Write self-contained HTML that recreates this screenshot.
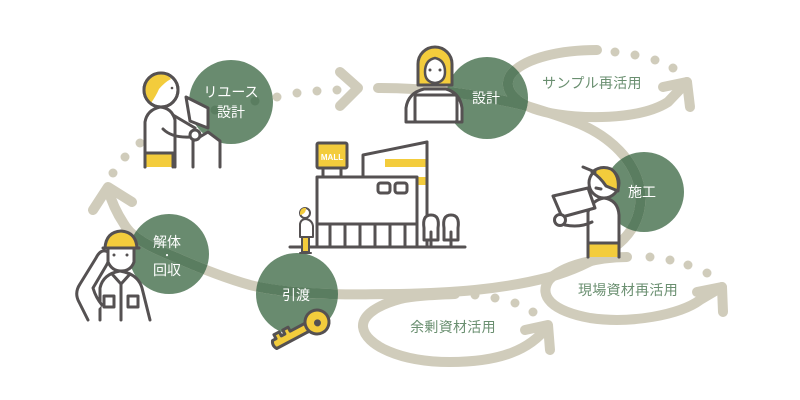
<!DOCTYPE html>
<html><head><meta charset="utf-8"><style>
html,body{margin:0;padding:0;background:#fff;}
svg{display:block;}
.t{font-family:"Liberation Sans","Noto Sans CJK JP",sans-serif;}
</style></head><body>
<svg width="800" height="400" viewBox="0 0 800 400" xmlns="http://www.w3.org/2000/svg">
<defs>
<clipPath id="cc">
<circle cx="231" cy="102" r="42"/>
<circle cx="487" cy="98" r="41"/>
<circle cx="644" cy="192" r="40"/>
<circle cx="169" cy="254" r="40"/>
<circle cx="297" cy="294" r="41"/>
</clipPath>
</defs>
<!-- circles -->
<g fill="#698b6f">
<circle cx="231" cy="102" r="42"/>
<circle cx="487" cy="98" r="41"/>
<circle cx="644" cy="192" r="40"/>
<circle cx="169" cy="254" r="40"/>
<circle cx="297" cy="294" r="41"/>
</g>
<!-- tracks -->
<g id="tr" fill="none" stroke="#d0ccbb" stroke-width="10" stroke-linecap="round" stroke-linejoin="round">
<path d="M378,88 C420,88 470,92 527,106 C550,113 565,118 580,124 C610,137 635,160 640,190 C643,215 632,235 613,248 C595,260 575,270 550,277 C500,290 450,293 400,294 C370,294 350,295 330,294 C300,293 270,290 250,285 C225,278 200,268 175,257 C150,247 132,238 124,224 C116,212 111,200 108,189"/>
<polyline points="93,210 108,187 132,202"/>
<polyline points="340,72 358,88 340,106"/>
<path d="M597,50 C560,50 527,58 513,72 C500,86 512,104 545,112 C580,120 640,120 668,102 L687,82"/>
<polyline points="663,87 687,82 690,107"/>
<path d="M627,257 C600,257 562,265 549,280 C538,296 552,311 590,318 C630,324 680,315 700,300 L722,287"/>
<polyline points="697,292 722,287 723,312"/>
<path d="M455,294 C430,295 412,296 400,299 C378,305 362,315 363,327 C365,345 400,362 450,362 C500,362 530,350 548,326"/>
<polyline points="525,330 548,325 550,350"/>
</g>
<g fill="#d0ccbb">
<circle cx="615" cy="52" r="4.5"/><circle cx="635" cy="55" r="4.5"/><circle cx="655" cy="60" r="4.5"/><circle cx="673" cy="68" r="4.5"/>
<circle cx="650" cy="257" r="4.5"/><circle cx="670" cy="260" r="4.5"/><circle cx="688" cy="265" r="4.5"/><circle cx="707" cy="273" r="4.5"/>
<circle cx="475" cy="295" r="4.5"/><circle cx="495" cy="298" r="4.5"/><circle cx="515" cy="303" r="4.5"/><circle cx="533" cy="312" r="4.5"/>
<circle cx="113" cy="173" r="4.5"/><circle cx="125" cy="157" r="4.5"/><circle cx="140" cy="143" r="4.5"/>
<circle cx="277" cy="97" r="4.5"/><circle cx="297" cy="93" r="4.5"/><circle cx="317" cy="91" r="4.5"/><circle cx="337" cy="90" r="4.5"/>
</g>
<!-- darker overlap -->
<g clip-path="url(#cc)">
<g fill="none" stroke="#5a7d60" stroke-width="10" stroke-linecap="round" stroke-linejoin="round">
<path d="M378,88 C420,88 470,92 527,106 C550,113 565,118 580,124 C610,137 635,160 640,190 C643,215 632,235 613,248 C595,260 575,270 550,277 C500,290 450,293 400,294 C370,294 350,295 330,294 C300,293 270,290 250,285 C225,278 200,268 175,257 C150,247 132,238 124,224 C116,212 111,200 108,189"/>
<path d="M597,50 C560,50 527,58 513,72 C500,86 512,104 545,112 C580,120 640,120 668,102 L687,82"/>
</g>
<g fill="#5a7d60"><circle cx="215" cy="110" r="4.5"/><circle cx="255" cy="101" r="4.5"/></g>
</g>
<!-- labels -->
<g class="t" fill="#fff" font-size="14" text-anchor="middle">
<text x="231" y="97">リユース</text>
<text x="231" y="117">設計</text>
<text x="486" y="103">設計</text>
<text x="642" y="197">施工</text>
<text x="167" y="247">解体</text>
<text x="167" y="259" font-size="10">・</text>
<text x="167" y="275">回収</text>
<text x="296" y="300">引渡</text>
</g>
<g class="t" fill="#6a8f70" font-size="14" text-anchor="middle" letter-spacing="0.3">
<text x="592" y="88">サンプル再活用</text>
<text x="628" y="295">現場資材再活用</text>
<text x="453" y="332">余剰資材活用</text>
</g>
<!-- figures -->
<g stroke="#555152" stroke-width="3" stroke-linecap="round" stroke-linejoin="round">
<!-- reuse person -->
<path d="M145,167 L145,122 Q147,110 160,107 Q172,108 175,120 L175,167" fill="#fff"/>
<rect x="145" y="153" width="28" height="14" fill="#f3cc3c" stroke="none"/>
<line x1="145" y1="153" x2="145" y2="167"/>
<line x1="173" y1="153" x2="173" y2="167"/>
<line x1="145" y1="153" x2="173" y2="153"/>
<circle cx="161" cy="90" r="17" fill="#fff"/>
<path d="M163,74 A16,16 0 0 0 151,103 Q156,96 159,89 Q165,82 171,79 Q168,75 163,74 Z" fill="#f3cc3c" stroke="none"/>
<circle cx="161" cy="90" r="17" fill="none"/>
<circle cx="172" cy="88" r="1.3" fill="#555152" stroke="none"/>
<path d="M186,97 L208,108 L208,128 L190,121 Z" fill="#fff"/>
<path d="M193,167 L193,141 L208,132 L220,141 L220,167" fill="#fff"/>
<path d="M173,115 L195,128" fill="none"/>
<path d="M163,129 Q172,138 190,137" fill="none"/>
<circle cx="195" cy="135" r="5" fill="#fff"/>
<!-- design woman -->
<path d="M406,122 L406,108 Q408,93 424,89 L446,89 Q460,93 462,108 L462,122 Z" fill="#fff"/>
<path d="M418,85 L418,64 A17,17 0 0 1 452,64 L452,85 Z" fill="#f3cc3c"/>
<path d="M425,72 Q425,60 435,58 Q445,60 445,72 Q445,82 435,83 Q425,82 425,72 Z" fill="#fff" stroke-width="2.5"/>
<circle cx="430" cy="70" r="1.5" fill="#555152" stroke="none"/>
<circle cx="440" cy="70" r="1.5" fill="#555152" stroke="none"/>
<rect x="415" y="95" width="42" height="27" rx="2" fill="#fff"/>
<!-- construction worker -->
<path d="M588,257 L588,212 Q592,200 604,198 Q618,200 619,215 L619,257" fill="#fff"/>
<rect x="589" y="243" width="29" height="14" fill="#f3cc3c" stroke="none"/>
<line x1="588" y1="243" x2="619" y2="243"/>
<line x1="588" y1="243" x2="588" y2="257"/>
<line x1="619" y1="243" x2="619" y2="257"/>
<circle cx="604" cy="183" r="15" fill="#fff"/>
<path d="M592,172 Q601,165 611,169 Q620,175 618,191 L606,186 Q600,177 592,172 Z" fill="#f3cc3c"/>
<line x1="583" y1="167" x2="595" y2="172"/>
<line x1="596" y1="188" x2="601" y2="189"/>
<path d="M553,196 L588,188 L595,208 L562,217 Z" fill="#fff"/>
<path d="M565,225 Q580,228 592,222" fill="none"/>
<circle cx="560" cy="220" r="5.5" fill="#fff"/>
<!-- demolition worker -->
<path d="M100,320 L100,288 Q103,274 120,271 Q138,274 142,288 L150,320" fill="#fff"/>
<path d="M88,320 L79,302 Q74,293 80,284 L96,258 Q101,248 108,252 Q111,258 106,266 L93,288 Q96,298 102,305" fill="#fff"/>
<path d="M108,248 L108,262 Q112,271 121,271 Q131,271 134,262 L134,248 Z" fill="#fff"/>
<path d="M105,248 Q106,232 121,231 Q136,232 137,248 Z" fill="#f3cc3c"/>
<line x1="103" y1="248" x2="139" y2="248"/>
<circle cx="114" cy="255" r="1.5" fill="#555152" stroke="none"/>
<circle cx="127" cy="255" r="1.5" fill="#555152" stroke="none"/>
<path d="M112,274 L121,284 L130,274" fill="none"/>
<line x1="121" y1="284" x2="121" y2="320"/>
<rect x="104" y="296" width="10" height="11" fill="#fff"/>
<rect x="128" y="296" width="10" height="11" fill="#fff"/>
<!-- building -->
<path d="M363,177 L363,155 L427,142 L427,222" fill="#fff"/>
<rect x="385" y="159" width="42" height="8" fill="#f3cc3c" stroke="none"/>
<rect x="418" y="177" width="9" height="8" fill="#f3cc3c" stroke="none"/>
<line x1="427" y1="142" x2="427" y2="247"/>
<rect x="317" y="177" width="100" height="70" fill="#fff"/>
<line x1="317" y1="224" x2="417" y2="224"/>
<line x1="330" y1="224" x2="330" y2="247"/><line x1="345" y1="224" x2="345" y2="247"/>
<line x1="360" y1="224" x2="360" y2="247"/><line x1="375" y1="224" x2="375" y2="247"/>
<line x1="390" y1="224" x2="390" y2="247"/><line x1="405" y1="224" x2="405" y2="247"/>
<rect x="378" y="183" width="12" height="10" rx="2.5" fill="#fff"/>
<rect x="395" y="183" width="12" height="10" rx="2.5" fill="#fff"/>
<line x1="323" y1="168" x2="323" y2="177"/><line x1="341" y1="168" x2="341" y2="177"/>
<rect x="317" y="143" width="30" height="25" rx="1.5" fill="#f3cc3c"/>
<line x1="290" y1="247" x2="465" y2="247"/>
<path d="M424,240 L424,228 Q422,215 431,215 Q440,215 438,228 L438,240 Z" fill="#fff"/>
<line x1="431" y1="232" x2="431" y2="247"/>
<path d="M444,240 L444,228 Q442,215 451,215 Q460,215 458,228 L458,240 Z" fill="#fff"/>
<line x1="451" y1="232" x2="451" y2="247"/>
<!-- small person -->
<rect x="302" y="235" width="7" height="17" fill="#f3cc3c" stroke-width="2"/>
<path d="M300,237 L300,224 Q301,219 306,219 Q312,220 313,226 L313,237 Z" fill="#fff" stroke-width="2"/>
<circle cx="305" cy="213" r="5" fill="#fff" stroke-width="2"/>
<path d="M300,213 A5,5 0 0 1 306,208 Q306,214 300,215 Z" fill="#f3cc3c" stroke="none"/>
<line x1="300" y1="253" x2="311" y2="253" stroke-width="2"/>
<!-- key -->
<g transform="translate(317,322) rotate(152)">
<path d="M9,-4.5 L48,-4.5 Q51,0 48,4.5 L44,4.5 L44,9 L38,9 L38,4.5 L34,4.5 L34,9 L28,9 L28,4.5 L9,4.5 Z" fill="#f3cc3c"/>
<circle cx="0" cy="0" r="12" fill="#f3cc3c"/>
<circle cx="0" cy="-1" r="3.5" fill="#555152" stroke="none"/>
</g>
</g>
<text x="332" y="160" class="t" font-size="8" font-weight="bold" fill="#fff" text-anchor="middle">MALL</text>
</svg>
</body></html>
